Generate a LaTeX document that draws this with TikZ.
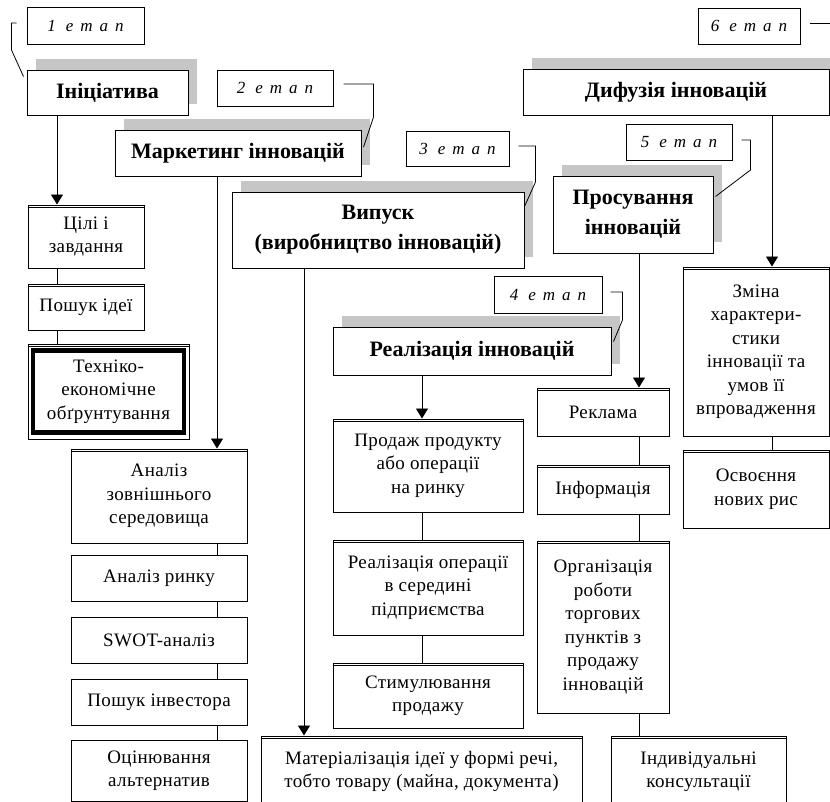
\documentclass[tikz,border=0pt]{standalone}
\usepackage{fontspec}
\setmainfont{Liberation Serif}
\newfontfamily\bodyfont[LetterSpace=2]{Liberation Serif}
\newcommand\etaptxt[1]{#1\hspace{10pt}е\hspace{7pt}т\hspace{7pt}а\hspace{7pt}п}
\usetikzlibrary{arrows.meta,positioning,shadows}

\begin{document}
\begin{tikzpicture}[x=1pt,y=-1pt,line width=0.9pt,>={Triangle[width=12pt,length=10pt]},
  dims/.style 2 args={minimum width=#1pt,minimum height=#2pt},
  box/.style={draw,fill=white,line width=1pt,align=center,inner sep=0pt,font=\bodyfont\fontsize{19}{23.5}\selectfont},
  head/.style={draw,fill=white,line width=1pt,align=center,inner sep=0pt,font=\fontsize{22}{30}\selectfont\bfseries,
    general shadow={fill=gray!45,shadow xshift=9pt,shadow yshift=11pt}},
  etap/.style={draw,fill=white,line width=1pt,inner sep=0pt,font=\fontsize{17}{20}\selectfont\itshape}]
  \useasboundingbox (0,0) rectangle (830,801);
  \clip (0,0) rectangle (830,801);

  % stages
  \node [etap,dims={117}{37}] (s1) at (85.5,25.5) {\etaptxt{1}};
  \node [etap,dims={116}{36}] (s2) at (275,88) {\etaptxt{2}};
  \node [etap,dims={103}{35}] (s3) at (457.5,148.5) {\etaptxt{3}};
  \node [etap,dims={108}{37}] (s4) at (548,294.5) {\etaptxt{4}};
  \node [etap,dims={106}{36}] (s5) at (679,142) {\etaptxt{5}};
  \node [etap,dims={102}{36}] (s6) at (749,26) {\etaptxt{6}};

  % headers
  \node [head,dims={161}{45}] (init) at (107.5,92.5) {Ініціатива};
  \node [head,dims={306}{46}] (dyf) at (676,92) {Дифузія інновацій};
  \node [head,dims={246}{46}] (mark) at (238,153) {Маркетинг інновацій};
  \node [head,dims={160}{77}] (pros) at (633,214.5) {Просування\\інновацій};
  \node [head,dims={292}{76}] (vyp) at (378,230) {Випуск\\(виробництво інновацій)};
  \node [head,dims={278}{48}] (real) at (472,351) {Реалізація інновацій};

  % columns
  \node [box,dims={116}{63}] (cili) at (86,236.5) {Цілі і\\завдання};
  \node [box,dims={116}{46},below=15pt of cili] (poshuk) {Пошук ідеї};
  \node [box,dims={161}{95},below=13pt of poshuk.south west,anchor=north west] (tekhn) {Техніко-\\економічне\\обґрунтування};

  \node [box,dims={176}{94}] (analiz) at (159,496) {Аналіз\\зовнішнього\\середовища};
  \node [box,dims={176}{46},below=11pt of analiz] (rynok) {Аналіз ринку};
  \node [box,dims={176}{46},below=15pt of rynok] (swot) {SWOT-аналіз};
  \node [box,dims={176}{46},below=15pt of swot] (invest) {Пошук інвестора};
  \node [box,dims={176}{61},below=14pt of invest] (ocin) {Оцінювання\\альтернатив};

  \node [box,dims={190}{93}] (prodazh) at (428,465.5) {Продаж продукту\\або операції\\на ринку};
  \node [box,dims={190}{95},below=27pt of prodazh] (realop) {Реалізація операції\\в середині\\підприємства};
  \node [box,dims={190}{65},below=27pt of realop] (stymul) {Стимулювання\\продажу};
  \node [box,dims={321}{71}] (mater) at (421.5,771.5) {Матеріалізація ідеї у формі речі,\\тобто товару (майна, документа)};

  \node [box,dims={132}{48}] (reklama) at (603,412) {Реклама};
  \node [box,dims={132}{49},below=28pt of reklama] (inform) {Інформація};
  \node [box,dims={132}{172},below=26pt of inform] (orgrob) {Організація\\роботи\\торгових\\пунктів з\\продажу\\інновацій};
  \node [box,dims={175}{71}] (indyv) at (698.5,771.5) {Індивідуальні\\консультації};

  \node [box,dims={146}{169}] (zmina) at (756,351.5) {Зміна\\характери-\\стики\\інновації та\\умов її\\впровадження};
  \node [box,dims={146}{78},below=13pt of zmina] (osvoen) {Освоєння\\нових рис};

  % thick frame and double top lines
  \draw[line width=4.5pt] ([xshift=5.5pt,yshift=-7pt]tekhn.north west) rectangle ([xshift=-5.5pt,yshift=7pt]tekhn.south east);
  \foreach \n in {cili,poshuk,tekhn,analiz,prodazh,realop,stymul,mater,reklama,inform,orgrob,indyv,zmina,osvoen}
    \draw[line width=0.8pt] ([yshift=-2.5pt]\n.north west) -- ([yshift=-2.5pt]\n.north east);

  \coordinate (c1) at (57,0);
  \coordinate (c2) at (217,0);
  \coordinate (c3) at (304,0);
  \coordinate (c4) at (422,0);
  \coordinate (c5) at (639,0);
  \coordinate (c6) at (772,0);

  \path[->] (init.south -| c1) edge (cili.north -| c1)
            (mark.south -| c2) edge (analiz.north -| c2)
            (vyp.south -| c3) edge (mater.north -| c3)
            (real.south -| c4) edge (prodazh.north -| c4)
            (pros.south -| c5) edge (reklama.north -| c5)
            (dyf.south -| c6) edge (zmina.north -| c6);

  \path[-] (cili.south -| c1) edge (poshuk.north -| c1)
           (poshuk.south -| c1) edge (tekhn.north -| c1)
           (analiz.south -| c2) edge (rynok.north -| c2)
           (rynok.south -| c2) edge (swot.north -| c2)
           (swot.south -| c2) edge (invest.north -| c2)
           (invest.south -| c2) edge (ocin.north -| c2)
           (prodazh.south -| c4) edge (realop.north -| c4)
           (realop.south -| c4) edge (stymul.north -| c4)
           (reklama.south -| c5) edge (inform.north -| c5)
           (inform.south -| c5) edge (orgrob.north -| c5)
           (orgrob.south -| c5) edge (indyv.north -| c5)
           (zmina.south -| c6) edge (osvoen.north -| c6);

  % stage brackets
  \draw[line width=0.8pt] ([xshift=-10pt,yshift=2.5pt]s1.west) -- ++(-5,0) -- ++(0,27) -- ([xshift=-3pt,yshift=-7pt]init.north west);
  \draw[line width=0.8pt] ([xshift=10pt,yshift=4pt]s2.east) -- ++(30,0) -- ++(0,33) -- ([xshift=2pt,yshift=6pt]mark.east);
  \draw[line width=0.8pt] ([xshift=9pt,yshift=2.5pt]s3.east) -- ++(17,0) -- ++(0,36) -- ([yshift=-15pt]vyp.north east);
  \draw[line width=0.8pt] ([xshift=8pt,yshift=2.5pt]s4.east) -- ++(12,0) -- ++(0,28) -- ([xshift=2pt,yshift=-15pt]real.north east);
  \draw[line width=0.8pt] ([xshift=9pt,yshift=2pt]s5.east) -- ++(9,0) -- ++(0,30) -- ([xshift=2pt,yshift=-21pt]pros.north east);
  \draw[line width=0.8pt] ([xshift=9pt,yshift=3pt]s6.east) -- ++(40,0);
\end{tikzpicture}
\end{document}
